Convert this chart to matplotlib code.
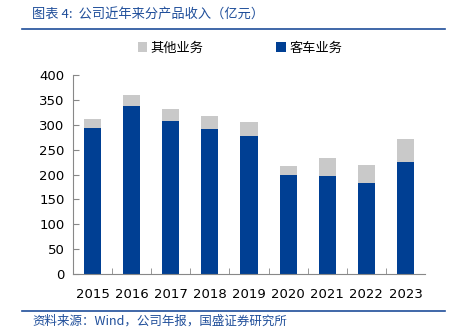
import matplotlib.pyplot as plt
import numpy as np
from matplotlib.lines import Line2D

plt.rcParams['font.family'] = ['DejaVu Sans', 'Noto Sans CJK SC']

# 公司近年来分产品收入（亿元）
years = ["2015", "2016", "2017", "2018", "2019", "2020", "2021", "2022", "2023"]
bus = [294, 338, 308, 292, 278, 198, 197, 183, 225]
other = [18, 21, 24, 25, 28, 19, 36, 36, 46]

blue = "#003F93"
gray = "#C9C9C9"
title_blue = "#1F4E9A"
cjk = ['Noto Sans CJK SC', 'DejaVu Sans']

fig = plt.figure(figsize=(4.6, 3.27), dpi=100)
ax = fig.add_axes([73 / 460, 1 - 274 / 327, 352 / 460, 199 / 327])

x = np.arange(len(years))
ax.bar(x, bus, width=0.44, color=blue, label="客车业务")
ax.bar(x, other, width=0.44, bottom=bus, color=gray, label="其他业务")

ax.set_xlim(-0.5, len(years) - 0.5)
ax.set_ylim(0, 400)
ax.set_yticks(range(0, 401, 50))
ax.set_xticks(x)
ax.set_xticklabels(years)
ax.set_xticks(np.arange(0.5, len(years) - 0.5, 1), minor=True)
ax.tick_params(axis='x', which='major', length=0, labelsize=9.5, pad=10)
ax.tick_params(axis='x', which='minor', length=4, direction='in', color='#888888')
ax.tick_params(axis='y', length=4, direction='in', labelsize=9.5, color='#888888', pad=6)
for s in ['top', 'right']:
    ax.spines[s].set_visible(False)
for s in ['left', 'bottom']:
    ax.spines[s].set_color('#888888')
    ax.spines[s].set_linewidth(0.8)

handles, labels = ax.get_legend_handles_labels()
ax.legend(handles[::-1], labels[::-1], loc='center', bbox_to_anchor=(240 / 460, 1 - 48 / 327),
          bbox_transform=fig.transFigure, ncol=2, frameon=False, columnspacing=5.5,
          handlelength=0.7, handleheight=0.7, handletextpad=0.3,
          prop={'family': cjk, 'size': 9.5})

fig.text(32 / 460, 1 - 15 / 327, "图表 4:  公司近年来分产品收入（亿元）", family=cjk,
         style='italic', color=title_blue, fontsize=9.5, va='center')
fig.add_artist(Line2D([22 / 460, 445 / 460], [1 - 29 / 327] * 2, color=title_blue, lw=1.2))
fig.add_artist(Line2D([22 / 460, 445 / 460], [1 - 311 / 327] * 2, color=title_blue, lw=1.2))
fig.text(32 / 460, 1 - 321 / 327, "资料来源：Wind，公司年报，国盛证券研究所", family=cjk,
         style='italic', color=title_blue, fontsize=9, va='center')

fig.savefig("out.png", dpi=100)
